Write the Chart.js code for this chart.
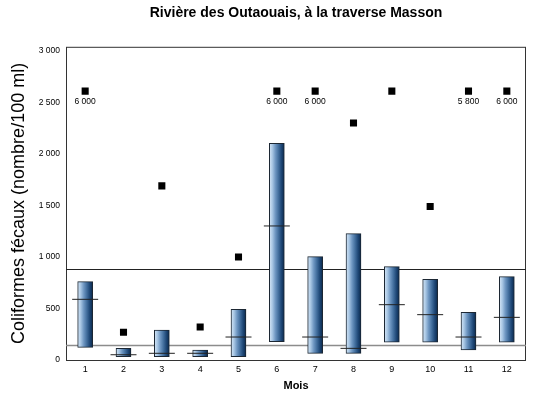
<!DOCTYPE html>
<html>
<head>
<meta charset="utf-8">
<script src="https://cdn.jsdelivr.net/npm/chart.js@4"></script>
<style>
    body{margin:0;background:#fff}
    #wrap{width:540px;height:399px}
</style>
</head>
<body>
<div id="wrap"><canvas id="chart"></canvas></div>
<script>
const months = ["1","2","3","4","5","6","7","8","9","10","11","12"]
const minVals = [123, 32, 32, 32, 32, 178, 65, 65, 172, 172, 97, 172]
const maxBar = [760, 113, 291, 97, 492, 2104, 1003, 1226, 906, 783, 463, 809]
const medians = [589, 51, 65, 65, 223, 1301, 223, 113, 537, 440, 223, 414]
const maxima = [6000, 270, 1690, 320, 1000, 6000, 6000, 2300, 2610, 1490, 5800, 6000]
const refLines = [880, 146]
const yTicks = [0, 500, 1000, 1500, 2000, 2500, 3000]
const CAP = 2610

const font = "'Liberation Sans', Arial, Helvetica, sans-serif"

function fmt(v){
    return String(v).replace(/\B(?=(\d{3})+(?!\d))/g, " ")
}

// values above the axis get drawn at the cap with their real value written under
const maxShown = maxima.map(v => Math.min(v, CAP))

function barGradient(c){
    const chart = c.chart
    const xs = chart.scales.x
    if (!xs || c.dataIndex === undefined) return "#5a84b2"
    const x = xs.getPixelForValue(c.dataIndex)
    if (!isFinite(x)) return "#5a84b2"
    const g = chart.ctx.createLinearGradient(x - 7.5, 0, x + 7.5, 0)
    g.addColorStop(0, "#d6e7f7")
    g.addColorStop(0.2, "#a9c7e4")
    g.addColorStop(0.4, "#6f97c2")
    g.addColorStop(0.6, "#44709f")
    g.addColorStop(0.8, "#1f4877")
    g.addColorStop(1, "#0a284b")
    return g
}

const framePlugin = {
    id: "frame",
    beforeDatasetsDraw(chart){
        const ctx = chart.ctx
        const a = chart.chartArea
        const y = chart.scales.y
        ctx.save()
        ctx.strokeStyle = "#333"
        ctx.lineWidth = 1
        ctx.strokeRect(a.left + 0.5, a.top + 0.5, a.right - a.left - 1, a.bottom - a.top)
        refLines.forEach((v, i) => {
            const py = Math.round(y.getPixelForValue(v)) + 0.5
            ctx.beginPath()
            ctx.strokeStyle = i === 0 ? "#222" : "#8c8c8c"
            ctx.lineWidth = i === 0 ? 1 : 1.5
            ctx.moveTo(a.left, py)
            ctx.lineTo(a.right, py)
            ctx.stroke()
        })
        ctx.restore()
    },
    afterDatasetsDraw(chart){
        const ctx = chart.ctx
        const meta = chart.getDatasetMeta(0)
        ctx.save()
        ctx.fillStyle = "#000"
        ctx.font = "8.5px " + font
        ctx.textAlign = "center"
        ctx.textBaseline = "middle"
        meta.data.forEach((pt, i) => {
            if (maxima[i] > 3000) ctx.fillText(fmt(maxima[i]), pt.x, pt.y + 11)
        })
        ctx.restore()
    }
}

new Chart(document.getElementById("chart"), {
    data: {
        labels: months,
        datasets: [
            {
                type: "line",
                data: maxShown,
                showLine: false,
                pointStyle: "rect",
                pointRadius: 5,
                pointBackgroundColor: "#000",
                pointBorderColor: "#000",
                pointBorderWidth: 0,
                order: 1
            },
            {
                type: "line",
                data: medians,
                showLine: false,
                pointStyle: "line",
                pointRadius: 13,
                pointBorderColor: "#222",
                pointBorderWidth: 1,
                order: 2
            },
            {
                type: "bar",
                data: minVals.map((v, i) => [v, maxBar[i]]),
                backgroundColor: barGradient,
                borderColor: "#1c2733",
                borderWidth: 1,
                borderSkipped: false,
                barThickness: 15,
                order: 3
            }
        ]
    },
    options: {
        responsive: true,
        maintainAspectRatio: false,
        animation: false,
        events: [],
        layout: {padding: {left: 5, right: 6, top: 0, bottom: 0}},
        plugins: {
            legend: {display: false},
            tooltip: {enabled: false},
            title: {
                display: true,
                fullSize: false,
                text: "Rivière des Outaouais, à la traverse Masson",
                color: "#000",
                font: {family: font, size: 14, weight: "bold"},
                padding: {top: 5, bottom: 25}
            }
        },
        scales: {
            x: {
                grid: {display: false, drawTicks: false},
                border: {display: false},
                ticks: {color: "#000", font: {family: font, size: 9}, padding: 4},
                title: {
                    display: true,
                    text: "Mois",
                    color: "#000",
                    font: {family: font, size: 11, weight: "bold"},
                    padding: {top: 0, bottom: 6}
                },
                afterFit: s => { s.height = 39 }
            },
            y: {
                min: 0,
                max: 3040,
                grid: {display: false, drawTicks: false},
                border: {display: false},
                ticks: {
                    stepSize: 500,
                    color: "#000",
                    font: {family: font, size: 8.5},
                    padding: 6,
                    callback: v => fmt(v)
                },
                afterBuildTicks: s => {
                    s.ticks = yTicks.map(v => ({value: v}))
                },
                title: {
                    display: true,
                    text: "Coliformes fécaux (nombre/100 ml)",
                    color: "#000",
                    font: {family: font, size: 18},
                    padding: {top: 3, bottom: 0}
                },
                afterFit: s => { s.width = 61 }
            }
        }
    },
    plugins: [framePlugin]
})
</script>
</body>
</html>
